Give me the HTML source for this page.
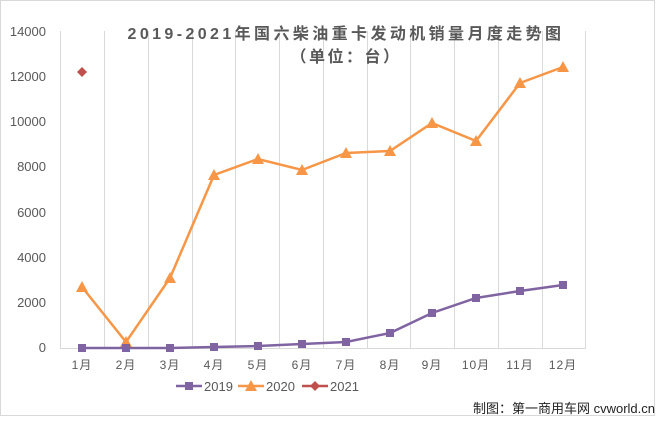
<!DOCTYPE html>
<html><head><meta charset="utf-8"><style>
body{margin:0;width:658px;height:420px;background:#fff;overflow:hidden;font-family:"Liberation Sans","Noto Sans CJK SC",sans-serif}
</style></head><body>
<svg width="658" height="420" xmlns="http://www.w3.org/2000/svg" font-family="Liberation Sans, Noto Sans CJK SC, sans-serif">
<rect x="0.5" y="0.5" width="654" height="415" fill="#fff" stroke="#d9d9d9"/>
<g stroke="#d9d9d9" stroke-width="1">
<line x1="60.5" y1="31" x2="60.5" y2="348"/><line x1="104.5" y1="31" x2="104.5" y2="348"/><line x1="148.5" y1="31" x2="148.5" y2="348"/><line x1="192.5" y1="31" x2="192.5" y2="348"/><line x1="235.5" y1="31" x2="235.5" y2="348"/><line x1="279.5" y1="31" x2="279.5" y2="348"/><line x1="323.5" y1="31" x2="323.5" y2="348"/><line x1="367.5" y1="31" x2="367.5" y2="348"/><line x1="410.5" y1="31" x2="410.5" y2="348"/><line x1="454.5" y1="31" x2="454.5" y2="348"/><line x1="498.5" y1="31" x2="498.5" y2="348"/><line x1="542.5" y1="31" x2="542.5" y2="348"/><line x1="585.5" y1="31" x2="585.5" y2="348"/>
<line x1="60" y1="348.5" x2="586" y2="348.5"/>
</g>
<g font-size="13" fill="#595959" text-anchor="end">
<text x="46" y="36">14000</text><text x="46" y="81">12000</text><text x="46" y="126">10000</text><text x="46" y="171">8000</text><text x="46" y="217">6000</text><text x="46" y="262">4000</text><text x="46" y="307">2000</text><text x="46" y="352">0</text>
</g>
<g font-size="12" fill="#595959" text-anchor="middle" letter-spacing="1">
<text x="82" y="369">1月</text><text x="126" y="369">2月</text><text x="170" y="369">3月</text><text x="214" y="369">4月</text><text x="258" y="369">5月</text><text x="302" y="369">6月</text><text x="346" y="369">7月</text><text x="390" y="369">8月</text><text x="432" y="369">9月</text><text x="476" y="369">10月</text><text x="520" y="369">11月</text><text x="563" y="369">12月</text>
</g>
<text x="346" y="39" font-size="16" font-weight="bold" fill="#595959" text-anchor="middle" letter-spacing="3.4">2019-2021年国六柴油重卡发动机销量月度走势图</text>
<text x="346" y="62" font-size="16" font-weight="bold" fill="#595959" text-anchor="middle" letter-spacing="2.5">（单位：台）</text>
<polyline fill="none" stroke="#f79646" stroke-width="2.5" points="82,287 126,342 170,278 214,175 258,159 302,170 346,153 390,151 432,123 476,141 520,83 563,67"/>
<g fill="#f79646">
<polygon points="82,281 88,292 76,292"/><polygon points="126,336 132,347 120,347"/><polygon points="170,272 176,283 164,283"/><polygon points="214,169 220,180 208,180"/><polygon points="258,153 264,164 252,164"/><polygon points="302,164 308,175 296,175"/><polygon points="346,147 352,158 340,158"/><polygon points="390,145 396,156 384,156"/><polygon points="432,117 438,128 426,128"/><polygon points="476,135 482,146 470,146"/><polygon points="520,77 526,88 514,88"/><polygon points="563,61 569,72 557,72"/>
</g>
<polyline fill="none" stroke="#8064a2" stroke-width="2.5" points="82,348 126,348 170,348 214,347 258,346 302,344 346,342 390,333 432,313 476,298 520,291 563,285"/>
<g fill="#8064a2">
<rect x="78" y="344" width="8" height="8"/><rect x="122" y="344" width="8" height="8"/><rect x="166" y="344" width="8" height="8"/><rect x="210" y="343" width="8" height="8"/><rect x="254" y="342" width="8" height="8"/><rect x="298" y="340" width="8" height="8"/><rect x="342" y="338" width="8" height="8"/><rect x="386" y="329" width="8" height="8"/><rect x="428" y="309" width="8" height="8"/><rect x="472" y="294" width="8" height="8"/><rect x="516" y="287" width="8" height="8"/><rect x="559" y="281" width="8" height="8"/>
</g>
<polygon points="82,67 87,72 82,77 77,72" fill="#c0504d"/>
<g font-size="13" fill="#595959">
<line x1="176" y1="386" x2="202" y2="386" stroke="#8064a2" stroke-width="2.5"/><rect x="185" y="382" width="8" height="8" fill="#8064a2"/><text x="204" y="391">2019</text>
<line x1="238" y1="386" x2="264" y2="386" stroke="#f79646" stroke-width="2.5"/><polygon points="251,380 257,391 245,391" fill="#f79646"/><text x="266" y="391">2020</text>
<line x1="302" y1="386" x2="328" y2="386" stroke="#c0504d" stroke-width="2.5"/><polygon points="315,381 320,386 315,391 310,386" fill="#c0504d"/><text x="330" y="391">2021</text>
</g>
<text x="655" y="413" font-size="13" fill="#222" text-anchor="end">制图：第一商用车网 cvworld.cn</text>
</svg>
</body></html>
